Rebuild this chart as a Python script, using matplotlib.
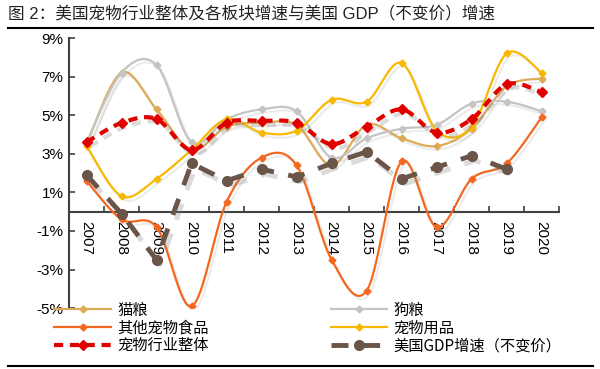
import numpy as np
import matplotlib
matplotlib.use("Agg")
import matplotlib.pyplot as plt
import matplotlib.patheffects as pe
from matplotlib.lines import Line2D

plt.rcParams['font.family'] = ['Liberation Sans', 'Noto Sans CJK SC', 'DejaVu Sans']

years = ['2007', '2008', '2009', '2010', '2011', '2012', '2013',
         '2014', '2015', '2016', '2017', '2018', '2019', '2020']

cat_food = [3.5, 7.2, 5.3, 3.2, 4.4, 4.6, 4.5, 2.4, 4.5, 3.8, 3.4, 4.3, 6.5, 6.9]
dog_food = [3.6, 7.2, 7.6, 3.6, 4.8, 5.3, 5.2, 2.8, 3.8, 4.3, 4.5, 5.6, 5.7, 5.2]
other_food = [1.6, -0.4, -0.8, -4.9, 0.5, 2.8, 2.4, -2.5, -4.1, 2.6, -0.8, 1.7, 2.5, 4.9]
supplies = [3.4, 0.8, 1.7, 3.2, 4.8, 4.1, 4.2, 5.8, 5.7, 7.7, 4.2, 4.4, 8.2, 7.2]
overall = [3.6, 4.6, 4.8, 3.2, 4.6, 4.7, 4.6, 3.5, 4.4, 5.3, 4.1, 4.8, 6.6, 6.2]
gdp = [1.9, -0.1, -2.5, 2.5, 1.6, 2.2, 1.8, 2.5, 3.1, 1.7, 2.3, 2.9, 2.2]

labels = ['猫粮', '狗粮', '其他宠物食品', '宠物用品', '宠物行业整体', '美国GDP增速（不变价）']


def smooth(xs, ys, n=30):
    # Excel style smoothed line: cubic bezier per segment
    xs = np.asarray(xs, float)
    ys = np.asarray(ys, float)
    px, py = [], []
    for i in range(len(xs) - 1):
        i0, i3 = max(i - 1, 0), min(i + 2, len(xs) - 1)
        c1x = xs[i] + (xs[i + 1] - xs[i0]) / 6
        c1y = ys[i] + (ys[i + 1] - ys[i0]) / 6
        c2x = xs[i + 1] - (xs[i3] - xs[i]) / 6
        c2y = ys[i + 1] - (ys[i3] - ys[i]) / 6
        t = np.linspace(0, 1, n)
        b0, b1, b2, b3 = (1 - t) ** 3, 3 * (1 - t) ** 2 * t, 3 * (1 - t) * t ** 2, t ** 3
        px.append(b0 * xs[i] + b1 * c1x + b2 * c2x + b3 * xs[i + 1])
        py.append(b0 * ys[i] + b1 * c1y + b2 * c2y + b3 * ys[i + 1])
    return np.concatenate(px), np.concatenate(py)


fig = plt.figure(figsize=(6, 3.69), dpi=100)
ax = fig.add_axes([0.115, 0.165, 0.817, 0.732])

# spine position first: moving it resets the tick objects
for s in ['top', 'right']:
    ax.spines[s].set_visible(False)
ax.spines['bottom'].set_position(('data', 0))
for s in ['bottom', 'left']:
    ax.spines[s].set_color('#404040')
    ax.spines[s].set_linewidth(1.5)

shadow = [pe.SimpleLineShadow(offset=(2, -2.5), shadow_color='#999999', alpha=0.18), pe.Normal()]

styles = [
    (cat_food, '#DDAA55', 1.6, 'D', 3.5, labels[0]),
    (dog_food, '#C4C4C4', 1.6, 'D', 3.5, labels[1]),
    (other_food, '#F4671E', 1.6, 'D', 3.5, labels[2]),
    (supplies, '#F8B800', 1.6, 'D', 3.5, labels[3]),
]

handles = {}
for vals, col, lw, mk, ms, lab in styles:
    x = np.arange(len(vals))
    sx, sy = smooth(x, vals)
    ax.plot(sx, sy, color=col, lw=lw, zorder=3, path_effects=shadow)
    ax.plot(x, vals, ls='none', marker=mk, ms=ms, color=col, zorder=4)
    handles[lab] = Line2D([], [], color=col, lw=lw, marker=mk, ms=ms)

x = np.arange(len(overall))
sx, sy = smooth(x, overall)
ax.plot(sx, sy, color='#E00000', lw=3, ls=(0, (2.2, 1.6)), zorder=5,
        path_effects=[pe.SimpleLineShadow(offset=(2.5, -3), shadow_color='#888888', alpha=0.3), pe.Normal()])
ax.plot(x, overall, ls='none', marker='D', ms=5.5, color='#E00000', zorder=6)
handles[labels[4]] = Line2D([], [], color='#E00000', lw=3, ls=(0, (2.2, 1.6)), marker='D', ms=5.5)

x = np.arange(len(gdp))
ax.plot(x, gdp, color='#6B5448', lw=3.5, ls=(0, (3.5, 3)), zorder=4,
        path_effects=[pe.SimpleLineShadow(offset=(2.5, -3.5), shadow_color='#888888', alpha=0.3), pe.Normal()])
ax.plot(x, gdp, ls='none', marker='o', ms=7, color='#6B5448', zorder=4)
handles[labels[5]] = Line2D([], [], color='#6B5448', lw=3.5, ls=(0, (3.5, 3)), marker='o', ms=7)

ax.set_xlim(-0.5, len(years) - 0.5)
ax.set_ylim(-5, 9)
ax.set_yticks([9, 7, 5, 3, 1, -1, -3, -5])
ax.set_yticklabels(['9%', '7%', '5%', '3%', '1%', '-1%', '-3%', '-5%'], fontsize=11)
ax.set_xticks(np.arange(len(years)))
ax.set_xticklabels(years, fontsize=11, rotation=270, ha='center', va='top')
ax.set_xticks(np.arange(len(years) + 1) - 0.5, minor=True)
ax.tick_params(axis='x', which='major', length=0, pad=7)
ax.tick_params(axis='x', which='minor', length=4, direction='in', width=1.2, color='#404040')
ax.tick_params(axis='y', length=4, direction='in', width=1.2, color='#404040', pad=4)

order = [labels[0], labels[2], labels[4], labels[1], labels[3], labels[5]]
fig.legend([handles[k] for k in order], order, ncol=2, frameon=False,
           loc='upper left', bbox_to_anchor=(0.078, 0.203),
           handlelength=3.7, handletextpad=0.4, columnspacing=8.0,
           labelspacing=0.05, borderpad=0,
           prop={'family': ['Noto Sans CJK SC'], 'size': 11})

fig.text(0.013, 0.962, '图 2：美国宠物行业整体及各板块增速与美国 GDP（不变价）增速',
         fontsize=12, color='#222222', va='center', ha='left',
         family=['Liberation Sans', 'Noto Sans CJK SC'])
fig.add_artist(Line2D([0.013, 0.988], [0.924, 0.924], color='black', lw=1.5))
fig.add_artist(Line2D([0.013, 0.988], [0.008, 0.008], color='black', lw=1.5))

fig.savefig('out.png', dpi=100)
